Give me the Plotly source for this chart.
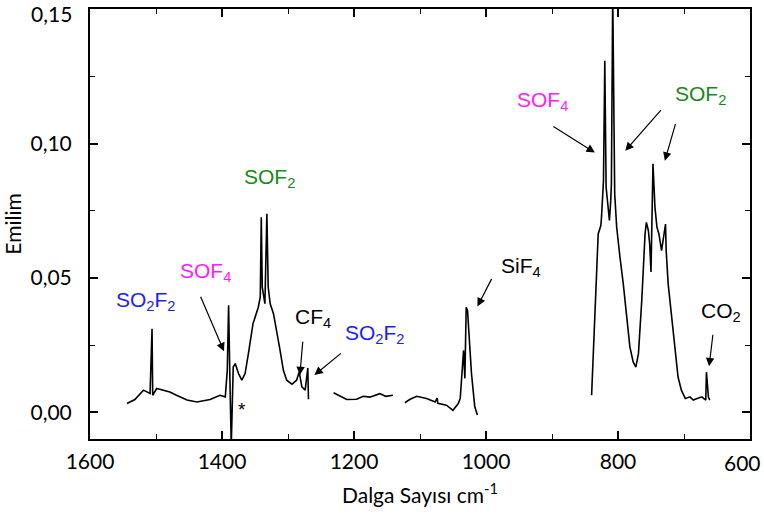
import plotly.graph_objects as go

# ---- spectrum data (wavenumber cm-1, absorbance) ----
seg1_x = [1544, 1532, 1519, 1514, 1509, 1506, 1505, 1499, 1491, 1479, 1469, 1453, 1438, 1418,
          1403, 1395, 1392, 1390, 1388, 1386, 1385, 1383, 1380, 1375, 1370, 1365, 1360, 1353,
          1345, 1342, 1340.5, 1339, 1335, 1332, 1330, 1327, 1322, 1317, 1312, 1307, 1302, 1294,
          1287, 1283, 1279, 1274, 1270, 1269]
seg1_y = [0.0032, 0.0047, 0.0082, 0.0076, 0.0070, 0.0311, 0.0063, 0.0088, 0.0082, 0.0075, 0.0063,
          0.0045, 0.0038, 0.0047, 0.0063, 0.0057, 0.0156, 0.0398, 0.0120, -0.0125, -0.0030, 0.0168,
          0.0181, 0.0144, 0.0119, 0.0144, 0.0218, 0.0330, 0.0391, 0.0429, 0.0726, 0.0466, 0.0404,
          0.0739, 0.0466, 0.0404, 0.0367, 0.0305, 0.0230, 0.0156, 0.0119, 0.0104, 0.0119, 0.0150,
          0.0094, 0.0082, 0.0164, 0.0048]

seg2_x = [1231, 1221, 1211, 1196, 1186, 1176, 1161, 1152, 1141]
seg2_y = [0.0072, 0.0059, 0.0047, 0.0048, 0.0059, 0.0056, 0.0069, 0.0059, 0.0063]

seg3_x = [1123, 1115, 1105, 1090, 1077, 1074, 1073, 1060, 1050, 1042, 1039, 1034, 1032, 1030,
          1028, 1022, 1017, 1013]
seg3_y = [0.0035, 0.0048, 0.0059, 0.0051, 0.0038, 0.0052, 0.0033, 0.0026, 0.0007, 0.0032, 0.0052,
          0.0230, 0.0126, 0.0391, 0.0379, 0.0144, 0.0020, -0.0011]

seg4_x = [840, 830, 826, 825, 822, 820, 818, 815, 813, 811, 810, 808, 806, 805, 802, 800, 797,
          792, 787, 782, 777, 773, 769, 764, 759, 757, 754, 752, 750, 749, 747, 744, 741, 738,
          734, 728, 727, 724, 719, 714, 709, 704, 698, 691, 686, 680, 673, 667, 666, 663, 661]
seg4_y = [0.0063, 0.0664, 0.0695, 0.0726, 0.0862, 0.1309, 0.0838, 0.0763, 0.0714, 0.0788, 0.0850,
          0.1560, 0.0993, 0.0814, 0.0689, 0.0639, 0.0577, 0.0478, 0.0367, 0.0243, 0.0187, 0.0168,
          0.0218, 0.0416, 0.0664, 0.0707, 0.0677, 0.0627, 0.0522, 0.0664, 0.0925, 0.0763, 0.0689,
          0.0664, 0.0602, 0.0701, 0.0602, 0.0478, 0.0354, 0.0230, 0.0131, 0.0082, 0.0051, 0.0057,
          0.0045, 0.0051, 0.0057, 0.0045, 0.0149, 0.0056, 0.0045]

x_ticks = [1600, 1400, 1200, 1000, 800, 600]
x_tick_labels = ["1600", "1400", "1200", "1000", "800", "600"]
y_ticks = [0.00, 0.05, 0.10, 0.15]
y_tick_labels = ["0,00", "0,05", "0,10", "0,15"]

# labels: (html text, colour, x, y of text)
labels = [
    ("SO<sub>2</sub>F<sub>2</sub>", "#1c1cff", 1564, 0.0416),
    ("SOF<sub>4</sub>", "#ff1aff", 1467, 0.0524),
    ("SOF<sub>2</sub>", "#178a17", 1370, 0.0874),
    ("CF<sub>4</sub>", "#000000", 1292, 0.0349),
    ("SO<sub>2</sub>F<sub>2</sub>", "#1c1cff", 1217, 0.0290),
    ("SiF<sub>4</sub>", "#000000", 980, 0.0539),
    ("SOF<sub>4</sub>", "#ff1aff", 956, 0.1160),
    ("SOF<sub>2</sub>", "#178a17", 717, 0.1182),
    ("CO<sub>2</sub>", "#000000", 677, 0.0372),
]
arrows = [  # head x, head y, tail dx (px), tail dy (px)
    (1397, 0.0227, -24, -56),
    (1282, 0.0138, 3, -35),
    (1260, 0.0138, 28, -23),
    (1013, 0.0394, 15, -29),
    (835, 0.0967, -43, -27),
    (789, 0.0974, 37, -42),
    (729, 0.0937, 11, -38),
    (662, 0.0171, 4, -33),
]

xs, ys = [], []
for sx, sy in [(seg1_x, seg1_y), (seg2_x, seg2_y), (seg3_x, seg3_y), (seg4_x, seg4_y)]:
    xs += sx + [None]
    ys += sy + [None]

fig = go.Figure()
fig.add_trace(go.Scatter(x=xs, y=ys, mode="lines", connectgaps=False,
                         line=dict(color="black", width=1.6), showlegend=False,
                         hoverinfo="skip"))

axis_font = dict(family="Lato, Noto Sans, sans-serif", size=21, color="black")

ann = []
for txt, col, x, y in labels:
    ann.append(dict(text=txt, x=x, y=y, xref="x", yref="y", xanchor="left", yanchor="middle",
                    showarrow=False, font=dict(family="Liberation Sans, Arial", size=21, color=col)))
for hx, hy, dx, dy in arrows:
    ann.append(dict(text="", x=hx, y=hy, xref="x", yref="y", ax=dx, ay=dy, showarrow=True,
                    arrowhead=2, arrowsize=1.4, arrowwidth=1.2, arrowcolor="black", standoff=0))
ann.append(dict(text="*", x=1370, y=0.0010, xref="x", yref="y", showarrow=False,
                font=dict(family="Liberation Sans, Arial", size=19, color="black")))
# edge tick labels drawn nudged inward so they stay fully inside the page
ann.append(dict(text=x_tick_labels[-1], x=x_ticks[-1], xref="x", y=0, yref="paper",
                xanchor="center", yanchor="middle", xshift=-8, yshift=-23, showarrow=False,
                font=axis_font))
ann.append(dict(text=y_tick_labels[-1], x=0, xref="paper", y=y_ticks[-1], yref="y",
                xanchor="right", yanchor="middle", xshift=-16, yshift=-4, showarrow=False,
                font=axis_font))

fig.update_layout(
    width=764, height=515,
    margin=dict(l=90, r=14, t=9, b=76),
    paper_bgcolor="white", plot_bgcolor="white",
    annotations=ann,
    xaxis=dict(range=[1600, 600], tickvals=x_ticks, ticktext=x_tick_labels[:-1] + [""],
               ticks="inside", ticklen=8, tickwidth=1.5,
               tickcolor="black", showline=True, linecolor="black", linewidth=2, mirror="ticks",
               showgrid=False, zeroline=False, tickfont=axis_font, ticklabelstandoff=3,
               ticklabeloverflow="allow", automargin=False,
               minor=dict(dtick=100, ticks="inside", ticklen=5, tickwidth=1.2, tickcolor="black",
                          showgrid=False),
               title=dict(text="Dalga Sayısı cm<sup>-1</sup>", font=axis_font, standoff=16)),
    yaxis=dict(range=[-0.01, 0.1502], tickvals=y_ticks, ticktext=y_tick_labels[:-1] + [""],
               ticks="inside",
               ticklen=8, tickwidth=1.5, tickcolor="black", showline=True, linecolor="black",
               linewidth=2, mirror="ticks", showgrid=False, zeroline=False, tickfont=axis_font,
               ticklabelstandoff=12, ticklabeloverflow="allow", automargin=False,
               minor=dict(dtick=0.025, ticks="inside", ticklen=5, tickwidth=1.2, tickcolor="black",
                          showgrid=False),
               title=dict(text="Emilim", font=axis_font, standoff=5)),
)
fig.write_html("out.html", config={"displayModeBar": False},
               post_script="document.body.style.margin='0';")
